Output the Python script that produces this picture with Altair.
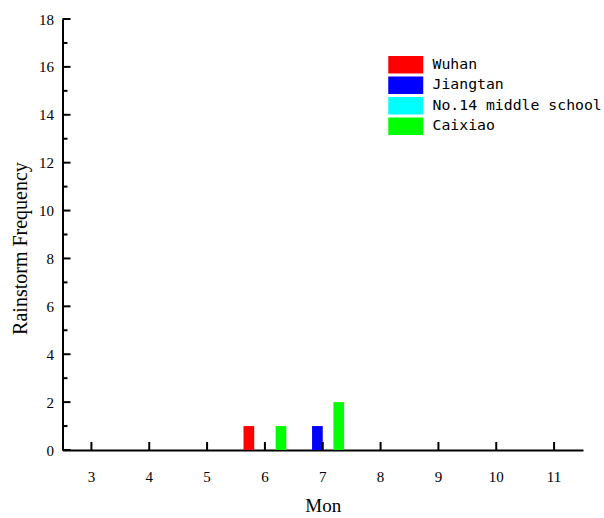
import altair as alt
import pandas as pd

months = [3, 4, 5, 6, 7, 8, 9, 10, 11]
series = ["Wuhan", "Jiangtan", "No.14 middle school", "Caixiao"]
wuhan = [0, 0, 0, 1, 0, 0, 0, 0, 0]
jiangtan = [0, 0, 0, 0, 1, 0, 0, 0, 0]
no14 = [0, 0, 0, 0, 0, 0, 0, 0, 0]
caixiao = [0, 0, 0, 1, 2, 0, 0, 0, 0]
colors = ["#FF0000", "#0000FF", "#00FFFF", "#00FF00"]
y_major = [0, 2, 4, 6, 8, 10, 12, 14, 16, 18]
y_minor = [1, 3, 5, 7, 9, 11, 13, 15, 17]

rows = []
for name, vals in zip(series, [wuhan, jiangtan, no14, caixiao]):
    for m, v in zip(months, vals):
        rows.append({"month": m, "series": name, "freq": v})
df = pd.DataFrame(rows)

W, H = 520.5, 431

xscale = alt.Scale(domain=months, paddingInner=0.26, paddingOuter=0.13)
yscale = alt.Scale(domain=[0, 18], nice=False, zero=True)

xaxis = alt.Axis(title="Mon", labelAngle=0, ticks=False, tickSize=0,
                 labelPadding=19, titlePadding=12,
                 domainColor="black", domainWidth=2,
                 labelFont="Liberation Serif", labelFontSize=15, labelColor="black",
                 titleFont="Liberation Serif", titleFontSize=19,
                 titleFontWeight="normal", titleColor="black")
yaxis = alt.Axis(title="Rainstorm Frequency", values=y_major, ticks=False, tickSize=0,
                 labelPadding=9, titlePadding=8, titleY=229,
                 domainColor="black", domainWidth=2,
                 labelFont="Liberation Serif", labelFontSize=15, labelColor="black",
                 titleFont="Liberation Serif", titleFontSize=20,
                 titleFontWeight="normal", titleColor="black")

bars = alt.Chart(df).mark_bar(strokeWidth=0, opacity=1).encode(
    x=alt.X("month:O", scale=xscale, sort=months, axis=xaxis),
    xOffset=alt.XOffset("series:N", sort=series,
                        scale=alt.Scale(domain=series, paddingInner=0, paddingOuter=0)),
    y=alt.Y("freq:Q", scale=yscale, axis=yaxis),
    color=alt.Color("series:N", scale=alt.Scale(domain=series, range=colors),
                    legend=alt.Legend(title=None)),
)

xt = alt.Chart(pd.DataFrame({"month": months})).mark_rule(color="black", strokeWidth=2).encode(
    x=alt.X("month:O", scale=xscale, sort=months, axis=xaxis),
    y=alt.value(H),
    y2=alt.value(H - 8),
)

ytmaj = alt.Chart(pd.DataFrame({"freq": y_major})).mark_rule(color="black", strokeWidth=2).encode(
    y=alt.Y("freq:Q", scale=yscale, axis=yaxis),
    x=alt.value(0),
    x2=alt.value(8),
)

ytmin = alt.Chart(pd.DataFrame({"freq": y_minor})).mark_rule(color="black", strokeWidth=2).encode(
    y=alt.Y("freq:Q", scale=yscale, axis=yaxis),
    x=alt.value(0),
    x2=alt.value(5),
)

chart = alt.layer(bars, xt, ytmaj, ytmin).properties(
    width=W, height=H,
    autosize=alt.AutoSizeParams(type="none"),
    padding={"left": 62.5, "top": 19, "right": 21, "bottom": 68},
    background="white",
).configure_view(stroke=None).configure_axis(grid=False).configure_legend(
    orient="none", legendX=334.25, legendY=36.75, padding=0,
    symbolType="M-2,-1H2V1H-2Z", symbolSize=306, symbolStrokeWidth=0, symbolOpacity=1,
    labelFont="DejaVu Sans Mono", labelFontSize=14.8, labelColor="black",
    labelOffset=17.75, rowPadding=2.5, labelLimit=400,
)

chart.save("out.html", embed_options={"renderer": "svg", "actions": False})
